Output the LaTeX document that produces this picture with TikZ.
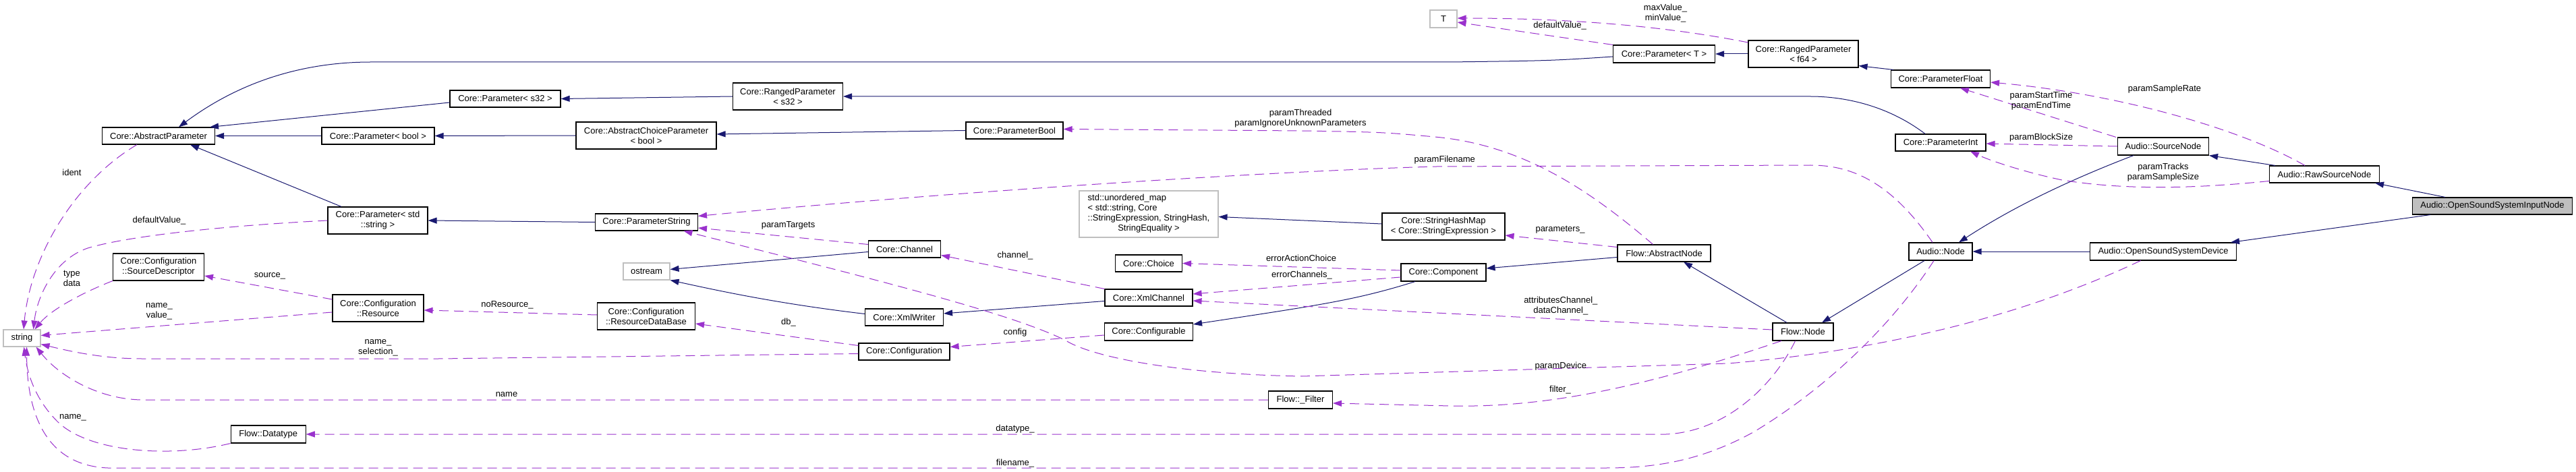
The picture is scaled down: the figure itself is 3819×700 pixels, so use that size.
\documentclass[tikz,border=0pt]{standalone}
\usepackage{fontspec}
\setmainfont{Liberation Sans}
\usetikzlibrary{arrows.meta}
\definecolor{inhcol}{HTML}{191970}
\definecolor{usecol}{HTML}{9A32CD}
\definecolor{graybox}{HTML}{BFBFBF}
\begin{document}
\begin{tikzpicture}[x=1pt,y=-1pt,
 box/.style={draw=black,line width=1.1pt,inner sep=0pt,align=center,font=\fontsize{13}{15}\selectfont,fill=white},
 gbox/.style={box,draw=graybox},
 inh/.style={draw=inhcol,line width=1pt,-{Triangle[length=13pt,width=9pt]}},
 use/.style={draw=usecol,line width=1pt,dash pattern=on 14pt off 8pt,-{Triangle[length=13pt,width=9pt]}},
 lbl/.style={inner sep=0pt,align=center,font=\fontsize{13}{15}\selectfont}]
\useasboundingbox[fill=white] (0,0) rectangle (3819,700);

% nodes
\node[box,minimum width=167pt,minimum height=25pt] (AP) at (235,201.5) {Core::AbstractParameter};
\node[box,minimum width=167pt,minimum height=25pt] (Pbool) at (560.5,201.5) {Core::Parameter< bool >};
\node[box,minimum width=148pt,minimum height=40pt] (Pstr) at (560,327) {Core::Parameter< std\\::string >};
\node[gbox,minimum width=55pt,minimum height=25pt] (string) at (32.5,501.5) {string};
\node[box,minimum width=135pt,minimum height=40pt] (SrcDesc) at (235,396) {Core::Configuration\\::SourceDescriptor};
\node[box,minimum width=135pt,minimum height=40pt] (Resource) at (560.5,457) {Core::Configuration\\::Resource};
\node[box,minimum width=111pt,minimum height=26pt] (Datatype) at (397.7,644) {Flow::Datatype};
\node[box,minimum width=164pt,minimum height=25pt] (Ps32) at (749,146.5) {Core::Parameter< s32 >};
\node[box,minimum width=163pt,minimum height=40pt] (RPs32) at (1168,143) {Core::RangedParameter\\< s32 >};
\node[box,minimum width=208pt,minimum height=40pt] (ACPbool) at (958,201) {Core::AbstractChoiceParameter\\< bool >};
\node[box,minimum width=152pt,minimum height=25pt] (PString) at (958.5,329.5) {Core::ParameterString};
\node[gbox,minimum width=69pt,minimum height=25pt] (ostream) at (958.5,402.5) {ostream};
\node[box,minimum width=145pt,minimum height=40pt] (RDB) at (958,469) {Core::Configuration\\::ResourceDataBase};
\node[box,minimum width=144pt,minimum height=25pt] (PBool) at (1504,193.5) {Core::ParameterBool};
\node[gbox,minimum width=206pt,minimum height=69pt] (umap) at (1703,317.5) {\begin{tabular}{@{}l@{}}std::unordered\_map\\< std::string, Core\\::StringExpression, StringHash,\\\multicolumn{1}{@{}c@{}}{StringEquality >}\end{tabular}};
\node[box,minimum width=107pt,minimum height=25pt] (Channel) at (1341,369.5) {Core::Channel};
\node[box,minimum width=99pt,minimum height=25pt] (Choice) at (1703,390.5) {Core::Choice};
\node[box,minimum width=130pt,minimum height=25pt] (XmlChannel) at (1703,441.5) {Core::XmlChannel};
\node[box,minimum width=116pt,minimum height=25pt] (XmlWriter) at (1340.5,470.5) {Core::XmlWriter};
\node[box,minimum width=131pt,minimum height=26pt] (Configurable) at (1703,492) {Core::Configurable};
\node[box,minimum width=135pt,minimum height=25pt] (Configuration) at (1340.5,521.5) {Core::Configuration};
\node[box,minimum width=95pt,minimum height=26pt] (Filter) at (1928,593) {Flow::\_Filter};
\node[gbox,minimum width=40pt,minimum height=26pt] (T) at (2140,28) {T};
\node[box,minimum width=151pt,minimum height=26pt] (PT) at (2467,80) {Core::Parameter< T >};
\node[box,minimum width=182pt,minimum height=40pt] (SHM) at (2140,336) {Core::StringHashMap\\< Core::StringExpression >};
\node[box,minimum width=138pt,minimum height=25pt] (AbsNode) at (2467,375.5) {Flow::AbstractNode};
\node[box,minimum width=126pt,minimum height=26pt] (Component) at (2140,404) {Core::Component};
\node[box,minimum width=163pt,minimum height=40pt] (RPf64) at (2673.5,80) {Core::RangedParameter\\< f64 >};
\node[box,minimum width=147pt,minimum height=26pt] (PFloat) at (2877,117) {Core::ParameterFloat};
\node[box,minimum width=134pt,minimum height=25pt] (PInt) at (2877,211.5) {Core::ParameterInt};
\node[box,minimum width=135pt,minimum height=26pt] (SourceNode) at (3207,217) {Audio::SourceNode};
\node[box,minimum width=94pt,minimum height=26pt] (ANode) at (2877,373) {Audio::Node};
\node[box,minimum width=217pt,minimum height=26pt] (OSSDev) at (3207,373) {Audio::OpenSoundSystemDevice};
\node[box,minimum width=90pt,minimum height=26pt] (FNode) at (2673,492) {Flow::Node};
\node[box,minimum width=163pt,minimum height=25pt] (RawSN) at (3446,258.5) {Audio::RawSourceNode};
\node[box,fill=graybox,minimum width=237pt,minimum height=25pt] (OSSIn) at (3695,305.5) {Audio::OpenSoundSystemInputNode};

% inheritance
\draw[inh] ([yshift=-4pt]PT.west) .. controls (2300,90) .. (2150,92) -- (550,92) .. controls (420,92) and (330,140) .. ([xshift=30pt]AP.north);
\draw[inh] ([yshift=-5.5pt]Ps32.west) -- ([xshift=-8pt]AP.north east);
\draw[inh] (Pbool.west) -- (AP.east);
\draw[inh] ([xshift=-54pt]Pstr.north) -- ([xshift=47pt]AP.south);
\draw[inh] (RPs32.west) -- (Ps32.east);
\draw[inh] (ACPbool.west) -- (Pbool.east);
\draw[inh] (PString.west) -- (Pstr.east);
\draw[inh] (PBool.west) -- ([yshift=2pt]ACPbool.east);
\draw[inh] ([xshift=-23pt]PInt.north) .. controls (2790,150) and (2720,143) .. (2684,143) -- (RPs32.east);
\draw[inh] (RPf64.west) -- (PT.east);
\draw[inh] ([xshift=-70pt]PFloat.north) -- ([yshift=3pt]RPf64.south east);
\draw[inh] ([yshift=-4pt]Channel.west) -- ([yshift=3pt]ostream.east);
\draw[inh] ([yshift=5pt]XmlWriter.west) .. controls (1150,450) and (1060,430) .. (ostream.south east);
\draw[inh] ([yshift=-5pt]XmlChannel.west) -- ([yshift=5.5pt]XmlWriter.east);
\draw[inh] ([xshift=-42pt]Component.south) .. controls (2010,445) and (1960,452) .. ([yshift=11pt]Configurable.east);
\draw[inh] ([yshift=-6pt]AbsNode.west) -- ([yshift=6pt]Component.east);
\draw[inh] ([yshift=4pt]SHM.west) -- ([yshift=-4pt]umap.east);
\draw[inh] ([xshift=-24pt]FNode.north) -- ([xshift=29pt]AbsNode.south);
\draw[inh] ([xshift=-24pt]ANode.south) -- ([xshift=28pt]FNode.north);
\draw[inh] ([xshift=-44pt]SourceNode.south) .. controls (3060,270) and (2980,310) .. ([xshift=27pt]ANode.north);
\draw[inh] (OSSDev.west) -- (ANode.east);
\draw[inh] ([xshift=-73pt]RawSN.north) -- (SourceNode.south east);
\draw[inh] ([xshift=-70pt]OSSIn.north) -- ([xshift=-7pt]RawSN.south east);
\draw[inh] ([xshift=-92pt]OSSIn.south) -- ([xshift=-9pt]OSSDev.north east);

% usage
\draw[use] ([xshift=-32pt]AP.south) .. controls (110,270) and (45,380) .. ([xshift=2.5pt]string.north);
\draw[use] (Pstr.west) .. controls (330,335) and (190,350) .. (130,368) .. controls (80,385) and (55,440) .. ([xshift=17pt]string.north);
\draw[use] (SrcDesc.south west) .. controls (120,435) and (75,460) .. ([xshift=19pt]string.north);
\draw[use] ([yshift=13pt]Resource.west) -- ([yshift=-13pt]SrcDesc.east);
\draw[use] ([yshift=-6pt]Resource.west) -- ([yshift=4pt]string.east);
\draw[use] ([yshift=2pt]RDB.west) -- ([yshift=-3pt]Resource.east);
\draw[use] ([yshift=9pt]Configuration.west) -- ([yshift=-11pt]RDB.east);
\draw[use] ([yshift=-3pt]Configuration.west) -- (650,532) -- (210,532) .. controls (150,532) and (100,520) .. ([yshift=-9pt]string.east);
\draw[use] ([yshift=-5pt]Configurable.west) -- ([yshift=7pt]Configuration.east);
\draw[use] (XmlChannel.north west) -- ([yshift=-9pt]Channel.east);
\draw[use] ([yshift=3pt]Component.west) -- (Choice.east);
\draw[use] ([yshift=-7pt]Component.west) -- ([yshift=5.5pt]XmlChannel.east);
\draw[use] ([yshift=3pt]FNode.west) -- ([yshift=-4.5pt]XmlChannel.east);
\draw[use] ([yshift=9pt]AbsNode.west) -- ([yshift=-13pt]SHM.east);
\draw[use] ([xshift=-16.5pt]AbsNode.north) .. controls (2360,285) and (2260,215) .. (2127,203) .. controls (2050,196) .. (1930,194) -- ([yshift=2pt]PBool.east);
\draw[use] ([xshift=-12pt]ANode.north) .. controls (2800,265) and (2740,245) .. (2684,245) -- (2130,247) .. controls (1900,253) and (1400,285) .. ([yshift=9pt]PString.east);
\draw[use] ([yshift=7pt]Channel.west) -- ([yshift=-8.5pt]PString.east);
\draw[use] ([xshift=-33.5pt]OSSDev.south) .. controls (3050,445) and (2850,515) .. (2562,539) -- (1930,558) .. controls (1750,555) and (1620,530) .. (1580,505) .. controls (1500,465) and (1300,415) .. ([xshift=55pt]PString.south);
\draw[use] ([xshift=-32pt]FNode.south) .. controls (2450,570) and (2300,605) .. (2150,602) -- ([yshift=-5pt]Filter.east);
\draw[use] (Filter.west) -- (212,593) .. controls (150,593) and (90,560) .. ([xshift=21pt]string.south);
\draw[use] ([xshift=-11.5pt]FNode.south) .. controls (2630,570) and (2560,640) .. (2470,644) -- (Datatype.east);
\draw[use] (Datatype.south west) .. controls (250,680) and (130,670) .. (85,625) .. controls (50,590) and (40,550) .. ([xshift=3pt]string.south);
\draw[use] ([xshift=-10pt]ANode.south) .. controls (2800,490) and (2700,580) .. (2601,640) .. controls (2520,685) and (2450,694) .. (2380,694) -- (160,694) .. controls (60,690) and (40,600) .. ([xshift=7pt]string.south);
\draw[use] ([xshift=-70pt]SourceNode.north) -- ([xshift=29pt]PFloat.south);
\draw[use] (SourceNode.west) -- ([yshift=-1.5pt]PInt.east);
\draw[use] ([xshift=-29pt]RawSN.north) .. controls (3330,195) and (3150,140) .. ([yshift=-5pt]PFloat.east);
\draw[use] ([yshift=-10pt]RawSN.west) .. controls (3250,280) and (3150,282) .. (3057,267) .. controls (3000,255) and (2950,238) .. ([xshift=44pt]PInt.south);
\draw[use] (PT.north west) -- ([yshift=-5pt]T.east);
\draw[use] ([yshift=17pt]RPf64.west) .. controls (2450,35) and (2300,27) .. ([yshift=1pt]T.east);

% labels
\node[lbl] (l1) at (106.5,256) {ident};
\node[lbl] (l2) at (236,327) {defaultValue\_};
\node[lbl] (l3) at (106.5,413) {type\\data};
\node[lbl] (l4) at (400,409) {source\_};
\node[lbl] (l5) at (236,461.5) {name\_\\value\_};
\node[lbl] (l6) at (752,452) {noResource\_};
\node[lbl] (l7) at (1169,478) {db\_};
\node[lbl] (l8) at (560.5,516) {name\_\\selection\_};
\node[lbl] (l9) at (1505,493) {config};
\node[lbl] (l10) at (1505,379) {channel\_};
\node[lbl] (l11) at (1929,383) {errorActionChoice};
\node[lbl] (l12) at (1930,408) {errorChannels\_};
\node[lbl] (l13) at (2313.8,454) {attributesChannel\_\\dataChannel\_};
\node[lbl] (l14) at (2313,341) {parameters\_};
\node[lbl] (l15) at (1928,175.5) {paramThreaded\\paramIgnoreUnknownParameters};
\node[lbl] (l16) at (2141.8,237) {paramFilename};
\node[lbl] (l17) at (1168.5,334) {paramTargets};
\node[lbl] (l18) at (2313.8,543) {paramDevice};
\node[lbl] (l19) at (2313,578) {filter\_};
\node[lbl] (l20) at (751,585) {name};
\node[lbl] (l21) at (1505,636) {datatype\_};
\node[lbl] (l22) at (108,619) {name\_};
\node[lbl] (l23) at (1505,687) {filename\_};
\node[lbl] (l24) at (3026,149.5) {paramStartTime\\paramEndTime};
\node[lbl] (l25) at (3026,204) {paramBlockSize};
\node[lbl] (l26) at (3209,132) {paramSampleRate};
\node[lbl] (l27) at (3207,255.5) {paramTracks\\paramSampleSize};
\node[lbl] (l28) at (2312.6,38) {defaultValue\_};
\node[lbl] (l29) at (2469,19.5) {maxValue\_\\minValue\_};
\end{tikzpicture}
\end{document}
